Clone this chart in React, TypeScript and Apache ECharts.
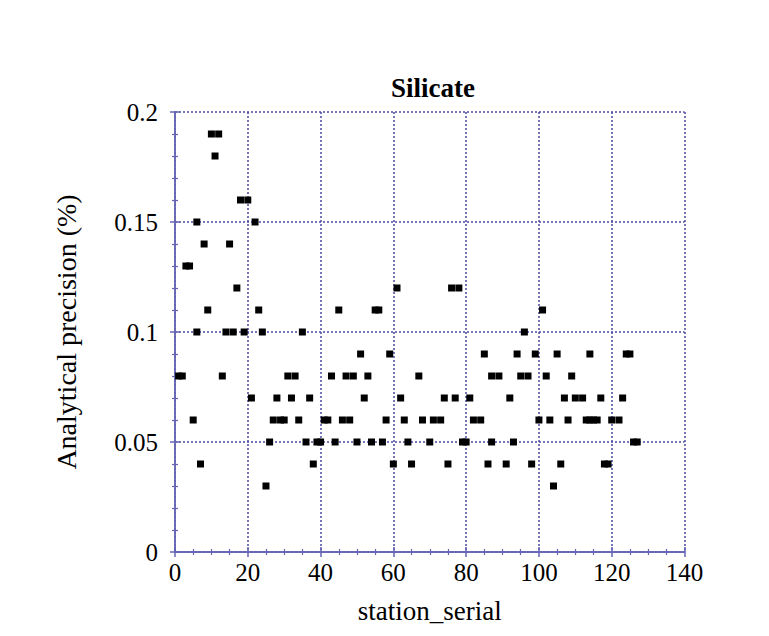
import React, { useEffect, useRef } from "react";
import * as echarts from "echarts";

// Station serial numbers and the analytical precision (%) measured at each
const stationSerial = [
  1, 2, 3, 4, 5, 6, 6, 7, 8, 9,
  10, 11, 12, 13, 14, 15, 16, 17, 18, 19,
  20, 21, 22, 23, 24, 25, 26, 27, 28, 29,
  30, 31, 32, 33, 34, 35, 36, 37, 38, 39,
  40, 41, 42, 43, 44, 45, 46, 47, 48, 49,
  50, 51, 52, 53, 54, 55, 56, 57, 58, 59,
  60, 61, 62, 63, 64, 65, 67, 68, 70, 71,
  73, 74, 75, 76, 77, 78, 79, 80, 81, 82,
  84, 85, 86, 87, 87, 89, 91, 92, 93, 94,
  95, 96, 97, 98, 99, 100, 101, 102, 103, 104,
  105, 106, 107, 108, 109, 110, 112, 113, 114, 114,
  115, 116, 117, 118, 119, 120, 122, 123, 124, 125,
  126, 127,
];
const precision = [
  0.08, 0.08, 0.13, 0.13, 0.06, 0.15, 0.10, 0.04, 0.14, 0.11,
  0.19, 0.18, 0.19, 0.08, 0.10, 0.14, 0.10, 0.12, 0.16, 0.10,
  0.16, 0.07, 0.15, 0.11, 0.10, 0.03, 0.05, 0.06, 0.07, 0.06,
  0.06, 0.08, 0.07, 0.08, 0.06, 0.10, 0.05, 0.07, 0.04, 0.05,
  0.05, 0.06, 0.06, 0.08, 0.05, 0.11, 0.06, 0.08, 0.06, 0.08,
  0.05, 0.09, 0.07, 0.08, 0.05, 0.11, 0.11, 0.05, 0.06, 0.09,
  0.04, 0.12, 0.07, 0.06, 0.05, 0.04, 0.08, 0.06, 0.05, 0.06,
  0.06, 0.07, 0.04, 0.12, 0.07, 0.12, 0.05, 0.05, 0.07, 0.06,
  0.06, 0.09, 0.04, 0.05, 0.08, 0.08, 0.04, 0.07, 0.05, 0.09,
  0.08, 0.10, 0.08, 0.04, 0.09, 0.06, 0.11, 0.08, 0.06, 0.03,
  0.09, 0.04, 0.07, 0.06, 0.08, 0.07, 0.07, 0.06, 0.09, 0.06,
  0.06, 0.06, 0.07, 0.04, 0.04, 0.06, 0.06, 0.07, 0.09, 0.09,
  0.05, 0.05,
];

const xTicks = { min: 0, max: 140, interval: 20 };
const yTicks = { min: 0, max: 0.2, interval: 0.05 };

const FONT = "'Liberation Serif', 'DejaVu Serif', serif";
const AXIS_BLUE = "#6464b4";
const GRID_BLUE = "#4848a0";

export default function App() {
  const ref = useRef<HTMLDivElement>(null);

  useEffect(() => {
    if (!ref.current) return;
    const chart = echarts.init(ref.current, null, { renderer: "svg" });

    const points = stationSerial.map((s, i) => [s, precision[i]]);

    // top and right edges of the frame: ticks only, no labels
    const frameAxis = {
      axisLine: { show: true, lineStyle: { color: AXIS_BLUE, width: 1.5 } },
      axisTick: { show: true, inside: true, length: 5, lineStyle: { color: AXIS_BLUE, width: 1.5 } },
      minorTick: { show: true, length: 3, lineStyle: { color: AXIS_BLUE, width: 1.2 } },
      axisLabel: { show: false },
      splitLine: { show: false },
    };

    chart.setOption({
      animation: false,
      backgroundColor: "#ffffff",
      title: {
        text: "Silicate",
        left: 428,
        top: 69,
        textAlign: "center",
        textStyle: { fontFamily: FONT, fontSize: 27, fontWeight: "bold", color: "#000" },
      },
      grid: { left: 175, right: 84.5, top: 112, bottom: 84, containLabel: false },
      xAxis: [
        {
          type: "value",
          ...xTicks,
          position: "bottom",
          name: "station_serial",
          nameLocation: "middle",
          nameGap: 45,
          nameTextStyle: { fontFamily: FONT, fontSize: 27, color: "#000" },
          axisLine: { show: true, lineStyle: { color: AXIS_BLUE, width: 1.5 } },
          axisTick: { show: true, inside: true, length: 5, lineStyle: { color: AXIS_BLUE, width: 1.5 } },
          minorTick: { show: true, splitNumber: 4, length: 3, lineStyle: { color: AXIS_BLUE, width: 1.2 } },
          axisLabel: { fontFamily: FONT, fontSize: 25, color: "#000", margin: 8 },
          splitLine: { show: true, lineStyle: { color: GRID_BLUE, type: [2, 2], width: 1.5 } },
        },
        {
          type: "value",
          ...xTicks,
          position: "top",
          ...frameAxis,
          minorTick: { ...frameAxis.minorTick, splitNumber: 4 },
        },
      ],
      yAxis: [
        {
          type: "value",
          ...yTicks,
          position: "left",
          name: "Analytical precision (%)",
          nameLocation: "middle",
          nameGap: 95,
          nameTextStyle: { fontFamily: FONT, fontSize: 28, color: "#000" },
          axisLine: { show: true, lineStyle: { color: AXIS_BLUE, width: 1.5 } },
          axisTick: { show: true, inside: true, length: 5, lineStyle: { color: AXIS_BLUE, width: 1.5 } },
          minorTick: { show: true, splitNumber: 5, length: 3, lineStyle: { color: AXIS_BLUE, width: 1.2 } },
          axisLabel: { fontFamily: FONT, fontSize: 25, color: "#000", margin: 17 },
          splitLine: { show: true, lineStyle: { color: GRID_BLUE, type: [2, 2], width: 1.5 } },
        },
        {
          type: "value",
          ...yTicks,
          position: "right",
          ...frameAxis,
          minorTick: { ...frameAxis.minorTick, splitNumber: 5 },
        },
      ],
      series: [
        {
          type: "scatter",
          xAxisIndex: 0,
          yAxisIndex: 0,
          data: points,
          symbol: "rect",
          symbolSize: [7, 7],
          itemStyle: { color: "#000", opacity: 1 },
        },
      ],
    });

    return () => chart.dispose();
  }, []);

  return (
    <div
      ref={ref}
      style={{ position: "absolute", left: 0, top: 0, width: 769, height: 636 }}
    />
  );
}
